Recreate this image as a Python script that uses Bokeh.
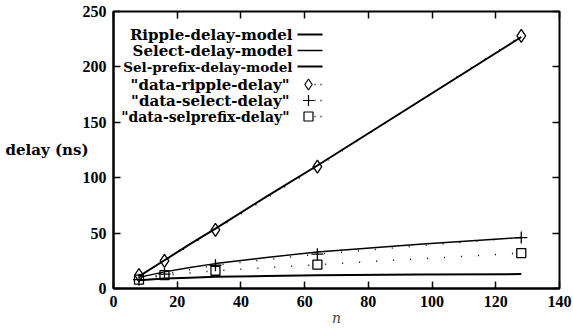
from bokeh.plotting import figure
from bokeh.models import Range1d, LinearAxis, Label, FixedTicker
from bokeh.embed import file_html
from bokeh.resources import INLINE

# ---- data ----
n_model = [8, 16, 24, 32, 48, 64, 96, 128]
ripple_model = [11, 25.5, 40, 54, 83, 111, 169, 227]
select_model = [10, 15, 19, 22.5, 28, 33, 40, 46]
selprefix_model = [7.5, 9, 9.8, 10.5, 11.3, 12, 12.6, 13]

n_data = [8, 16, 32, 64, 128]
ripple_data = [12, 25, 53, 110, 228]
select_data = [8, 13, 21, 31, 46]
selprefix_data = [8, 12, 16, 21.5, 32]

x_ticks = [0, 20, 40, 60, 80, 100, 120, 140]
y_ticks = [0, 50, 100, 150, 200, 250]

legend_labels = ["Ripple-delay-model", "Select-delay-model", "Sel-prefix-delay-model",
                 '"data-ripple-delay"', '"data-select-delay"', '"data-selprefix-delay"']

# ---- layout ----
W, H = 573, 329
FL, FR, FT, FB = 113, 559, 11, 288
XMAX, YMAX = 140, 250

p = figure(width=W, height=H, output_backend="svg", toolbar_location=None,
           x_range=Range1d(0, XMAX), y_range=Range1d(0, YMAX),
           min_border_left=FL, min_border_right=W - FR, min_border_top=FT,
           min_border_bottom=H - FB, background_fill_color="white",
           border_fill_color="white")
p.grid.visible = False
p.outline_line_color = "black"
p.outline_line_width = 2

TICKFONT = "Liberation Serif"
TEXTFONT = "DejaVu Serif"

for ax in (p.xaxis[0], p.yaxis[0]):
    ax.axis_line_width = 2
    ax.axis_line_color = "black"
    ax.major_tick_in = 7
    ax.major_tick_out = 0
    ax.major_tick_line_width = 1.5
    ax.minor_tick_line_color = None
    ax.major_label_text_font = TICKFONT
    ax.major_label_text_font_style = "bold"
    ax.major_label_text_font_size = "16px"
    ax.major_label_text_color = "black"
    ax.major_label_standoff = 7
p.xaxis[0].ticker = FixedTicker(ticks=x_ticks)
p.yaxis[0].ticker = FixedTicker(ticks=y_ticks)
p.xaxis[0].axis_label = "n"
p.xaxis[0].axis_label_text_font = TEXTFONT
p.xaxis[0].axis_label_text_font_style = "italic"
p.xaxis[0].axis_label_text_font_size = "14px"
p.xaxis[0].axis_label_standoff = 0

ya = p.yaxis[0]
ya.axis_label = "delay (ns)"
ya.axis_label_text_font = TEXTFONT
ya.axis_label_text_font_style = "bold"
ya.axis_label_text_font_size = "15px"
ya.axis_label_text_color = "black"
ya.axis_label_orientation = "horizontal"
ya.axis_label_standoff = -9

# mirror axes (ticks only, empty labels)
for loc, tick in (("above", x_ticks), ("right", y_ticks)):
    a = LinearAxis(ticker=FixedTicker(ticks=tick))
    a.axis_line_color = None
    a.major_tick_in = 7
    a.major_tick_out = 0
    a.major_tick_line_width = 1.5
    a.minor_tick_line_color = None
    a.major_label_overrides = {t: "" for t in tick}
    a.major_label_text_font_size = "4px"
    a.major_label_standoff = 0
    p.add_layout(a, loc)

# ---- model lines ----
p.line(n_model, ripple_model, line_color="black", line_width=2)
p.line(n_model, select_model, line_color="black", line_width=1.4)
p.line(n_model, selprefix_model, line_color="black", line_width=2)

# ---- data series (points joined by sparse dots) ----
DOTS = "1 16"
for ys in (ripple_data, select_data, selprefix_data):
    p.line(n_data, ys, line_color="black", line_width=1.5, line_dash=DOTS)
p.scatter(n_data, ripple_data, marker="diamond", size=13, fill_color=None,
          line_color="black", line_width=1.3)
p.scatter(n_data, select_data, marker="cross", size=12,
          line_color="black", line_width=1.3)
p.scatter(n_data, selprefix_data, marker="square", size=9, fill_color=None,
          line_color="black", line_width=1.3)

# ---- legend (screen units are relative to the plot frame) ----
def X(px):
    return (px - FL) / (FR - FL) * XMAX

def Y(py):
    return (FB - py) / (FB - FT) * YMAX

rows = [34, 50, 66, 84, 100, 116]
right = [292, 292, 292, 289, 289, 289]
sizes = ["15px", "15px", "13.5px", "15px", "15px", "14px"]
for lab, ry, rx, fs in zip(legend_labels, rows, right, sizes):
    p.add_layout(Label(x=rx - FL, y=FB - ry, x_units="screen", y_units="screen",
                       text=lab, text_align="right",
                       text_baseline="middle", text_font=TEXTFONT,
                       text_font_style="bold", text_font_size=fs,
                       text_color="black"))
lw = [2, 1.4, 2]
for i in range(3):
    p.line([X(297), X(322)], [Y(rows[i]), Y(rows[i])], line_color="black",
           line_width=lw[i])
markers = [("diamond", 11), ("cross", 11), ("square", 9)]
for (m, s), ry in zip(markers, rows[3:]):
    p.line([X(308), X(322)], [Y(ry), Y(ry)], line_color="black",
           line_width=1.5, line_dash="1 5")
    p.scatter([X(308)], [Y(ry)], marker=m, size=s, fill_color="white",
              line_color="black", line_width=1.2)

open("out.html", "w").write(file_html(p, INLINE))
